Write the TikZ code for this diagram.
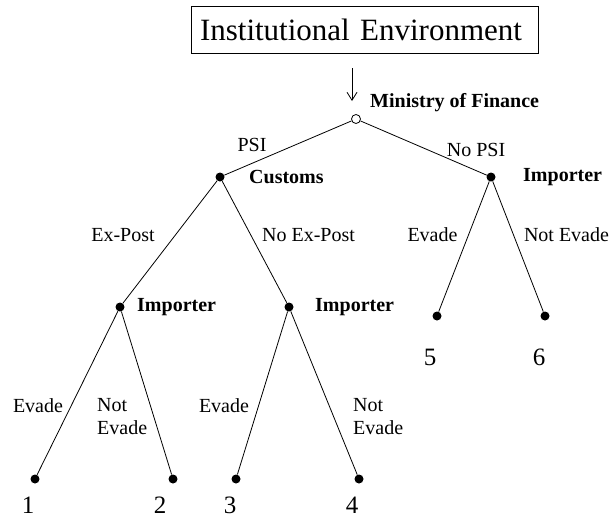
\documentclass[tikz,border=0pt]{standalone}
\usepackage{fontspec}
\setmainfont{Liberation Serif}
\usepackage{tikz}
\usetikzlibrary{arrows.meta,positioning}

\begin{document}
\begin{tikzpicture}[
    x=1pt, y=-1pt,
    decision/.style={circle, fill=black, inner sep=0pt, minimum size=9pt},
    chance/.style={circle, draw=black, fill=white, line width=0.8pt, inner sep=0pt, minimum size=9pt},
    player/.style={font=\fontsize{20}{23}\selectfont\bfseries, inner sep=0pt},
    move/.style={font=\fontsize{20}{23}\selectfont, inner sep=0pt, align=left},
    payoff/.style={font=\fontsize{25}{28}\selectfont, inner sep=0pt},
    branch/.style={line width=0.8pt},
    node distance=12pt
]
\useasboundingbox (0,0) rectangle (613,525);

% Institutional environment box
\node[draw, line width=0.8pt, inner xsep=9pt, inner ysep=0pt, text width=329pt, align=left,
      minimum height=47pt, font=\fontsize{31}{34}\selectfont] (env) at (364.5,29.5) {Institutional Environment};

% Tree nodes
\node[chance] (mof) at (356,119) {};
\node[decision] (customs) at (220,177) {};
\node[decision] (impR) at (491,177) {};
\node[decision] (impL) at (120,307) {};
\node[decision] (impM) at (289,307) {};
\node[decision] (leafA) at (35,479) {};
\node[decision] (leafB) at (173,479) {};
\node[decision] (leafC) at (236,479) {};
\node[decision] (leafD) at (359,479) {};
\node[decision] (leafE) at (437,316) {};
\node[decision] (leafF) at (545,316) {};

% Arrow into the root
\coordinate (arrowtail) at (352,68);
\coordinate (arrowhead) at (352,101);
\draw[line width=0.8pt, -{Straight Barb[length=8pt,width=10pt]}] (arrowtail) -- (arrowhead);

% Players
\node[player, anchor=west] (mofname) at (370,103) {Ministry of Finance};
\node[player, right=29pt of customs.center, anchor=west] (customsname) {Customs};
\node[player, right=32pt of impR.center, anchor=west] (impRname) {Importer};
\node[player, right=17pt of impL.center, anchor=west] (impLname) {Importer};
\node[player, right=26pt of impM.center, anchor=west] (impMname) {Importer};

% Branches
\draw[branch] (mof) -- (customs);
\draw[branch] (mof) -- (impR);
\draw[branch] (customs) -- (impL);
\draw[branch] (customs) -- (impM);
\draw[branch] (impL) -- (leafA);
\draw[branch] (impL) -- (leafB);
\draw[branch] (impM) -- (leafC);
\draw[branch] (impM) -- (leafD);
\draw[branch] (impR) -- (leafE);
\draw[branch] (impR) -- (leafF);

% Moves
\node[move] (psi) at (252,145) {PSI};
\node[move] (nopsi) at (476,150) {No PSI};
\node[move] (expost) at (123,235) {Ex-Post};
\node[move] (noexpost) at (308.5,235) {No Ex-Post};
\node[move] (evadeA) at (38,406) {Evade};
\node[move, anchor=west] (notevadeB) at (97,416.5) {Not\\Evade};
\node[move] (evadeC) at (224,406) {Evade};
\node[move, anchor=west] (notevadeD) at (353,416.5) {Not\\Evade};
\node[move] (evadeE) at (432.5,235) {Evade};
\node[move] (notevadeF) at (566.5,235) {Not Evade};

% Outcomes
\node[payoff] (outA) at (28,505) {1};
\node[payoff] (outB) at (160,505) {2};
\node[payoff] (outC) at (230,505) {3};
\node[payoff] (outD) at (352,505) {4};
\node[payoff] (outE) at (430,357) {5};
\node[payoff] (outF) at (539,357) {6};

\end{tikzpicture}
\end{document}
